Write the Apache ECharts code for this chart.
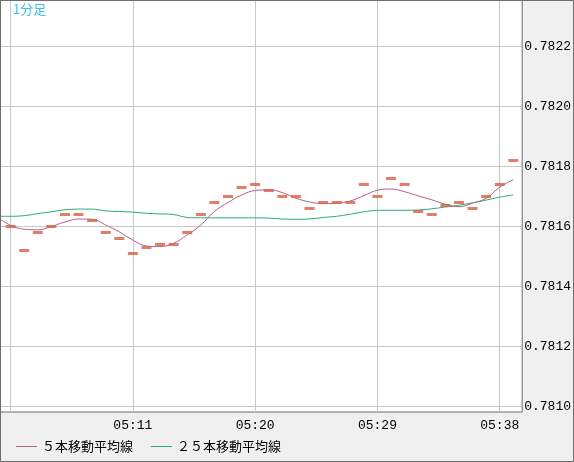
<!DOCTYPE html>
<html>
<head>
<meta charset="utf-8">
<script src="https://cdn.jsdelivr.net/npm/echarts@6/dist/echarts.min.js"></script>
<style>
  html, body { margin: 0; padding: 0; background: #f0f0f0; }
  #chart { width: 574px; height: 462px; }
</style>
</head>
<body>
<div id="chart"></div>
<script>
// 1分足 05:01 - 05:39 (05:01 is just off the left edge)
const times = ['05:01', '05:02', '05:03', '05:04', '05:05', '05:06', '05:07', '05:08', '05:09', '05:10',
  '05:11', '05:12', '05:13', '05:14', '05:15', '05:16', '05:17', '05:18', '05:19', '05:20',
  '05:21', '05:22', '05:23', '05:24', '05:25', '05:26', '05:27', '05:28', '05:29', '05:30',
  '05:31', '05:32', '05:33', '05:34', '05:35', '05:36', '05:37', '05:38', '05:39']

// 終値
const closes = [null, 0.78160, 0.78152, 0.78158, 0.78160, 0.78164, 0.78164, 0.78162, 0.78158, 0.78156,
  0.78151, 0.78153, 0.78154, 0.78154, 0.78158, 0.78164, 0.78168, 0.78170, 0.78173, 0.78174,
  0.78172, 0.78170, 0.78170, 0.78166, 0.78168, 0.78168, 0.78168, 0.78174, 0.78170, 0.78176,
  0.78174, 0.78165, 0.78164, 0.78167, 0.78168, 0.78166, 0.78170, 0.78174, 0.78182]

// ５本移動平均線
const ma5 = [0.781632, 0.781604, 0.781591, 0.781589, 0.781600, 0.781615, 0.781625, 0.781624, 0.781605, 0.781582,
  0.781555, 0.781535, 0.781533, 0.781544, 0.781572, 0.781605, 0.781650, 0.781680, 0.781705, 0.781720,
  0.781722, 0.781713, 0.781694, 0.781682, 0.781676, 0.781678, 0.781685, 0.781703, 0.781721, 0.781725,
  0.781716, 0.781702, 0.781689, 0.781674, 0.781666, 0.781678, 0.781694, 0.781731, 0.781756]

// ２５本移動平均線
const ma25 = [0.781634, 0.781634, 0.781636, 0.781643, 0.781649, 0.781656, 0.781658, 0.781658, 0.781652, 0.781650,
  0.781648, 0.781644, 0.781642, 0.781640, 0.781630, 0.781629, 0.781629, 0.781629, 0.781629, 0.781629,
  0.781628, 0.781625, 0.781624, 0.781625, 0.781630, 0.781634, 0.781641, 0.781649, 0.781654, 0.781654,
  0.781654, 0.781655, 0.781659, 0.781665, 0.781671, 0.781679, 0.781688, 0.781698, 0.781705]

const gridTimes = [1, 10, 19, 28, 37]     // 縦線
const labelTimes = [10, 19, 28, 37]       // 時刻ラベル
const priceTicks = [0.7810, 0.7812, 0.7814, 0.7816, 0.7818, 0.7820, 0.7822]

const chart = echarts.init(document.getElementById('chart'))

const pairs = (arr) => arr.map((v, i) => [i, v])

const option = {
  backgroundColor: '#f0f0f0',
  animation: false,
  grid: {
    left: 0, top: 0, right: 51, bottom: 50,
    show: true,
    backgroundColor: '#fff',
    borderColor: '#6e6e6e',
    borderWidth: 1
  },
  graphic: [
    {
      type: 'rect',
      shape: { x: 0.5, y: 0.5, width: 573, height: 461 },
      style: { fill: 'none', stroke: '#6e6e6e', lineWidth: 1 },
      z: 100
    },
    {
      type: 'text',
      left: 13, top: 3,
      style: { text: '1分足', fill: '#3cbff0', font: '13px "Noto Sans CJK JP"' },
      z: 100
    }
  ],
  legend: {
    left: 16, top: 440, padding: 0,
    data: [
      { name: '５本移動平均線', icon: 'rect' },
      { name: '２５本移動平均線', icon: 'rect' }
    ],
    itemWidth: 21, itemHeight: 1, itemGap: 18,
    textStyle: { fontFamily: 'Noto Sans CJK JP', fontSize: 13, color: '#000' }
  },
  xAxis: {
    type: 'value',
    min: 0.221, max: 38.653,
    axisLine: { show: false },
    axisTick: { show: false, customValues: gridTimes },
    axisLabel: {
      customValues: labelTimes,
      formatter: (v) => times[v],
      margin: 7,
      fontFamily: 'Liberation Mono', fontSize: 13, color: '#000'
    },
    splitLine: { show: true, lineStyle: { color: '#c8c8c8', width: 1 } }
  },
  yAxis: {
    type: 'value',
    position: 'right',
    min: 0.7809817, max: 0.782355,
    axisLine: { show: false },
    axisTick: { show: false, customValues: priceTicks },
    axisLabel: {
      customValues: priceTicks,
      formatter: (v) => v.toFixed(4),
      margin: 2,
      fontFamily: 'Liberation Mono', fontSize: 13, color: '#000'
    },
    splitLine: { show: true, lineStyle: { color: '#c8c8c8', width: 1 } }
  },
  series: [
    {
      name: '２５本移動平均線',
      type: 'line',
      data: pairs(ma25),
      smooth: 0.3,
      symbol: 'none',
      lineStyle: { color: '#2aae74', width: 1 },
      itemStyle: { color: '#2aae74' },
      z: 2
    },
    {
      name: '５本移動平均線',
      type: 'line',
      data: pairs(ma5),
      smooth: 0.4,
      symbol: 'none',
      lineStyle: { color: '#b3628c', width: 1 },
      itemStyle: { color: '#b3628c' },
      z: 3
    },
    {
      name: '終値',
      type: 'scatter',
      data: pairs(closes).filter(d => d[1] !== null),
      symbol: 'rect',
      symbolSize: [10, 3],
      itemStyle: { color: '#d75f44' },
      z: 4
    }
  ]
}

chart.setOption(option)
</script>
</body>
</html>
